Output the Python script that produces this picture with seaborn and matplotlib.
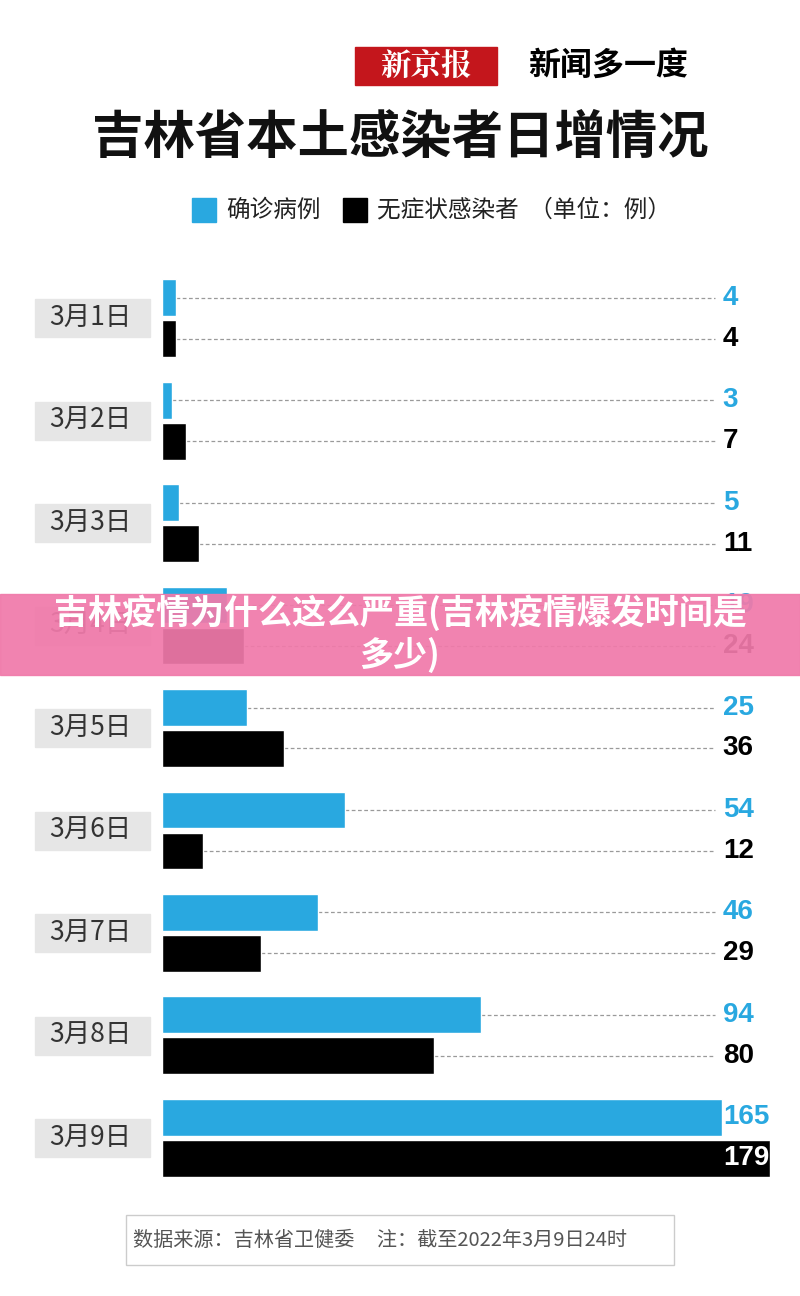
import matplotlib
matplotlib.use("Agg")
import matplotlib.pyplot as plt
import seaborn as sns
import pandas as pd
from matplotlib.patches import Rectangle

dates = ["3月1日","3月2日","3月3日","3月4日","3月5日","3月6日","3月7日","3月8日","3月9日"]
confirmed = [4,3,5,19,25,54,46,94,165]
asymptomatic = [4,7,11,24,36,12,29,80,179]
series_names = ["确诊病例","无症状感染者"]
colors = ["#29a8e0","#000000"]

sns.set_theme(style="white")
plt.rcParams['font.family'] = ['Noto Sans CJK SC','DejaVu Sans']

df = pd.DataFrame({
    "date": dates*2,
    "value": confirmed+asymptomatic,
    "type": [series_names[0]]*len(dates)+[series_names[1]]*len(dates),
})

W,H = 800,1296
fig = plt.figure(figsize=(8,12.96), dpi=100)
fig.patch.set_facecolor("white")
def fx(px): return px/W
def fy(py): return 1-py/H

ax = fig.add_axes([fx(162), fy(1186), fx(770)-fx(162), (1186-270)/H])
sns.barplot(data=df, y="date", x="value", hue="type", orient="h",
            palette=colors, width=0.8, gap=0.1, ax=ax, legend=False, saturation=1)
ax.set_xlim(0,179)
ax.set_ylim(8.47,-0.47)
ax.axis("off")

xend = 162.8
for i,(c,a) in enumerate(zip(confirmed, asymptomatic)):
    for j,(v,col) in enumerate([(c,colors[0]),(a,colors[1])]):
        yc = i + (-0.2 if j==0 else 0.2)
        if v < xend-3:
            ax.hlines(yc, v, xend, colors="#9a9a9a", linestyles=(0,(3,2)), lw=0.9, zorder=0)
        tc = col
        if j==1 and v>165: tc="white"
        ax.text(xend+2.3, yc, str(v), color=tc, fontsize=20, fontweight="bold",
                va="center", ha="left", family=["Liberation Sans","DejaVu Sans"])

# date boxes
for i,d in enumerate(dates):
    yc = 318 + i*102.5
    fig.patches.append(Rectangle((fx(35), fy(yc+19)), fx(150)-fx(35), 38/H,
                                 transform=fig.transFigure, color="#e6e6e6", zorder=0))
    fig.text(fx(90), fy(yc), d, fontsize=19, color="#333333", ha="center", va="center")

# logo
fig.patches.append(Rectangle((fx(355), fy(85)), fx(497)-fx(355), 38/H,
                             transform=fig.transFigure, color="#c4161c"))
fig.text(fx(426), fy(66), "新京报", fontsize=22, color="white", ha="center", va="center",
         fontweight="bold", family=["Noto Serif CJK SC","Noto Sans CJK SC"])
fig.text(fx(608), fy(66), "新闻多一度", fontsize=23, color="black", ha="center", va="center",
         fontweight="heavy", style="italic")

fig.text(fx(400), fy(137), "吉林省本土感染者日增情况", fontsize=37, fontweight="heavy",
         ha="center", va="center", color="#111111")

# legend
fig.patches.append(Rectangle((fx(192), fy(222)), 24/W, 24/H, transform=fig.transFigure, color=colors[0]))
fig.text(fx(226), fy(210), series_names[0], fontsize=17, va="center", color="#222222")
fig.patches.append(Rectangle((fx(343), fy(222)), 24/W, 24/H, transform=fig.transFigure, color=colors[1]))
fig.text(fx(377), fy(210), series_names[1]+"  （单位：例）", fontsize=17, va="center", color="#222222")

# banner
fig.patches.append(Rectangle((0, fy(675)), 1, 81/H, transform=fig.transFigure,
                             color="#f07aaa", alpha=0.93, zorder=5))
fig.text(0.5, fy(634), "吉林疫情为什么这么严重(吉林疫情爆发时间是\n多少)", fontsize=24.5,
         fontweight="bold", color="white", ha="center", va="center", zorder=6, linespacing=1.2)

# footer
fig.patches.append(Rectangle((fx(126), fy(1265)), fx(674)-fx(126), 50/H,
                             transform=fig.transFigure, fill=False, ec="#cccccc", lw=1))
fig.text(fx(133), fy(1240), "数据来源：吉林省卫健委     注：截至2022年3月9日24时", fontsize=14.5,
         color="#555555", va="center")

fig.savefig("out.png", dpi=100, facecolor="white")
